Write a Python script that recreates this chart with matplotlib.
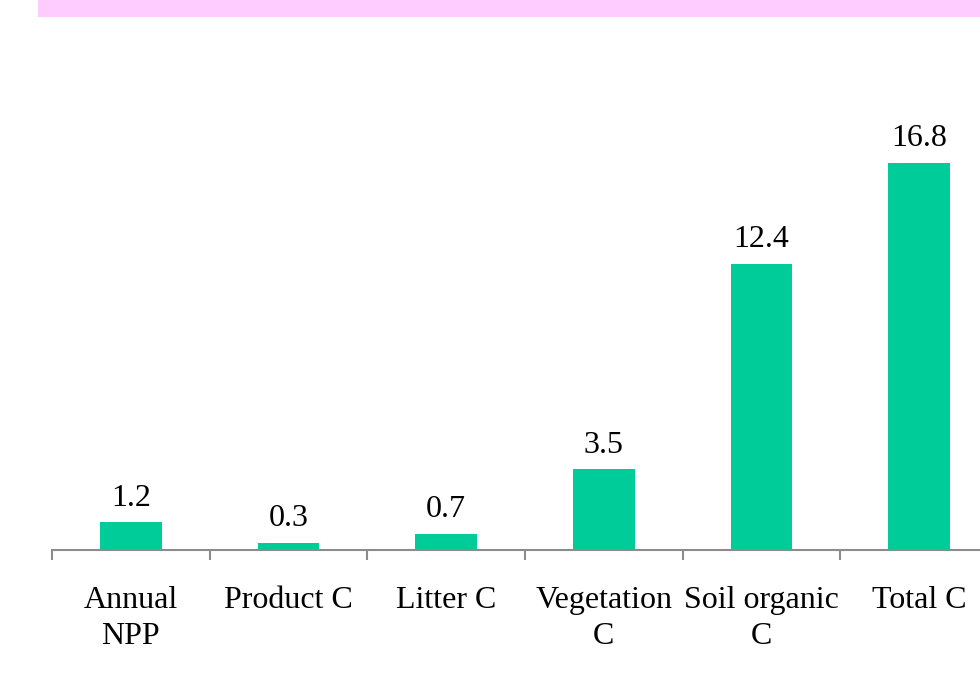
import matplotlib
matplotlib.use("Agg")
import matplotlib.pyplot as plt
from matplotlib.patches import Rectangle
import numpy as np

categories = ["Annual\nNPP", "Product C", "Litter C", "Vegetation\nC", "Soil organic\nC", "Total C"]
values = [1.2, 0.3, 0.7, 3.5, 12.4, 16.8]
value_labels = ["1.2", "0.3", "0.7", "3.5", "12.4", "16.8"]

plt.rcParams["font.family"] = ["Liberation Serif", "DejaVu Serif"]

W, H = 980, 693
fig = plt.figure(figsize=(W / 100, H / 100), dpi=100)

# pink header band
fig.patches.append(Rectangle((38 / W, 1 - 17 / H), 1 - 38 / W, 17 / H,
                             transform=fig.transFigure, facecolor="#FFCCFF",
                             edgecolor="none", zorder=0))

px_per_unit = 23.04
ymax = 20
ax = fig.add_axes([52 / W, (H - 550) / H, 946 / W, ymax * px_per_unit / H])

x = np.arange(len(categories))
ax.bar(x, values, width=0.39, color="#00CC99", zorder=2)

fs = 23
for xi, v, lab in zip(x, values, value_labels):
    ax.annotate(lab, (xi, v), xytext=(0, 17.5), textcoords="offset points",
                ha="center", va="center", fontsize=fs, color="black")

ax.set_xlim(-0.5, len(categories) - 0.5)
ax.set_ylim(0, ymax)

for s in ["top", "right", "left"]:
    ax.spines[s].set_visible(False)
ax.spines["bottom"].set_color("#8C8C8C")
ax.spines["bottom"].set_linewidth(1.5)

ax.set_yticks([])
ax.set_xticks(x)
ax.set_xticklabels(categories, fontsize=fs, linespacing=1.3)
ax.tick_params(axis="x", which="major", length=0, pad=26)
ax.set_xticks(np.arange(-0.5, len(categories) + 0.5, 1), minor=True)
ax.tick_params(axis="x", which="minor", length=7, width=1.5, color="#8C8C8C")
ax.patch.set_visible(False)

fig.savefig("out.png", dpi=100)
